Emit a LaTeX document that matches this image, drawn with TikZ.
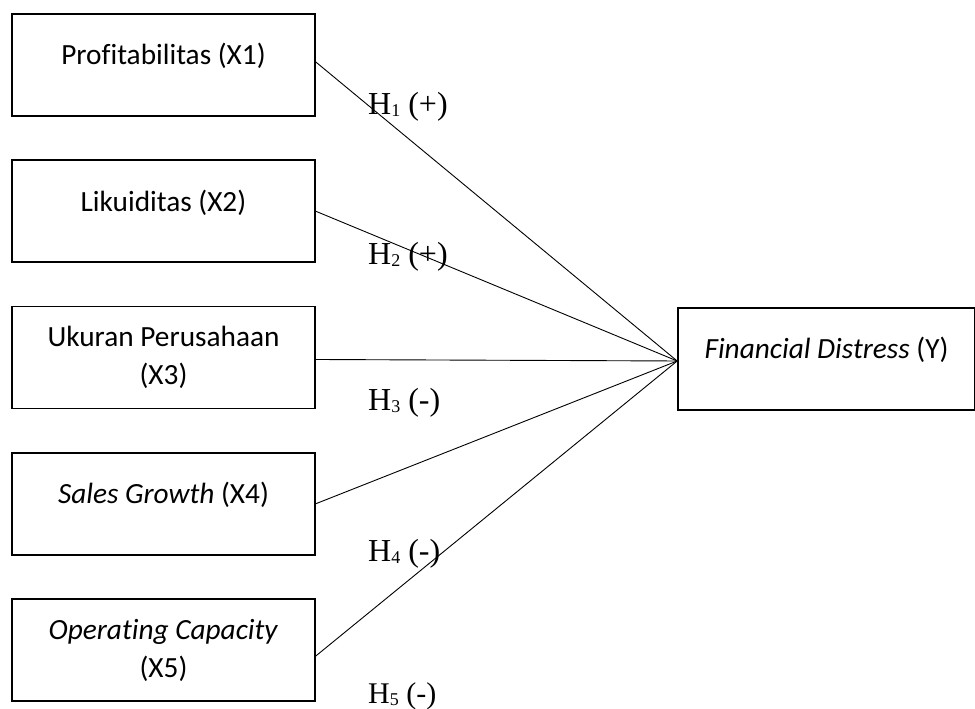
\documentclass[tikz,border=0pt]{standalone}
\usepackage{fontspec}
\newfontfamily\boxfont[Ligatures={NoCommon,NoContextual}]{Carlito}
\newfontfamily\hypfont{Liberation Serif}
\newcommand{\hsub}[1]{\raisebox{-1.5pt}{\fontsize{18}{18}\selectfont #1}}
\tikzset{%
  % Specifications for style of nodes:
          varbox/.style = {rectangle, draw=black, line width=1.6pt,
                           minimum width=303pt, minimum height=102pt,
                           text centered, inner sep=0pt,
                           font=\boxfont\fontsize{29.3}{38}\selectfont},
      singleline/.style = {varbox, text height=20pt, text depth=20pt},
         twoline/.style = {varbox, align=center},
       dependent/.style = {singleline, minimum width=297pt},
      hypothesis/.style = {anchor=base west, inner sep=0pt,
                           font=\hypfont\fontsize{32}{38}\selectfont},
          effect/.style = {draw=black, line width=0.9pt},
}

\begin{document}
\begin{tikzpicture}[x=1pt, y=1pt, node distance=146.25pt]
  \useasboundingbox (0,0) rectangle (975,709);
  % Specification of nodes (position, etc.)
  \node (profitabilitas)    [singleline] at (163.5,644)           {Profitabilitas (X1)};
  \node (likuiditas)        [singleline, below of=profitabilitas] {Likuiditas (X2)};
  \node (ukuranPerusahaan)  [twoline, below of=likuiditas]        {Ukuran Perusahaan\\(X3)};
  \node (salesGrowth)       [singleline, below of=ukuranPerusahaan] {\textit{Sales Growth} (X4)};
  \node (operatingCapacity) [twoline, below of=salesGrowth]       {\textit{Operating Capacity}\\(X5)};

  \node (financialDistress) [dependent] at (826.5,350)            {\textit{Financial Distress} (Y)};

  % Specification of lines between nodes specified above
  \draw[effect] ([yshift=3pt]profitabilitas.east)     -- ([yshift=-2pt]financialDistress.west);
  \draw[effect]              (likuiditas.east)         -- ([yshift=-2pt]financialDistress.west);
  \draw[effect] ([yshift=-2pt]ukuranPerusahaan.east)  -- ([yshift=-2pt]financialDistress.west);
  \draw[effect]              (salesGrowth.east)        -- ([yshift=-2pt]financialDistress.west);
  \draw[effect] ([yshift=-6pt]operatingCapacity.east) -- ([yshift=-2pt]financialDistress.west);

  % hypothesis labels
  \node (h1) [hypothesis] at (368,594) {H\hsub{1} (+)};
  \node (h2) [hypothesis] at (368,444) {H\hsub{2} (+)};
  \node (h3) [hypothesis] at (368,298) {H\hsub{3} (-)};
  \node (h4) [hypothesis] at (368,147) {H\hsub{4} (-)};
  \node (h5) [hypothesis, font=\hypfont\fontsize{30}{36}\selectfont] at (368,5) {H\hsub{5} (-)};
\end{tikzpicture}
\end{document}
